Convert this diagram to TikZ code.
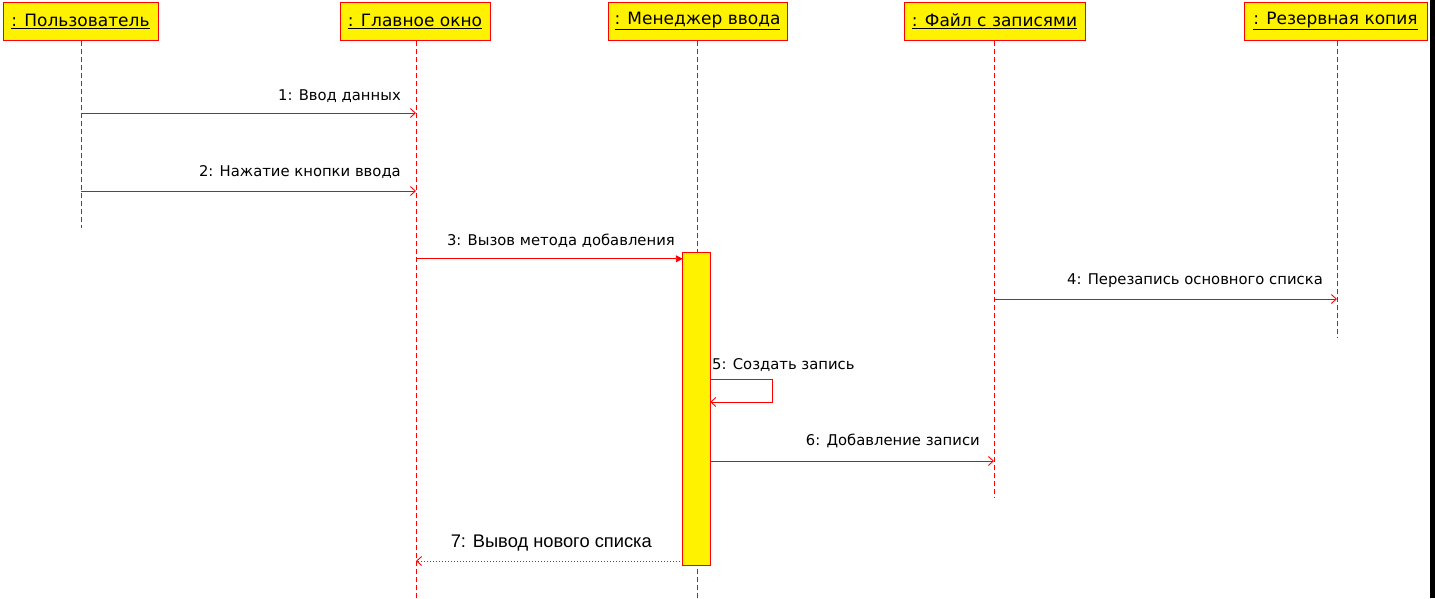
\documentclass[tikz,border=0pt]{standalone}
\usepackage{fontspec}
\setmainfont{DejaVu Sans}
\newfontfamily\retfont{Liberation Sans}
\usetikzlibrary{positioning, arrows.meta, calc}

\begin{document}
\begin{tikzpicture}[x=1pt, y=-1pt,
    obj/.style={draw=red, fill=yellow, line width=1pt, minimum height=38pt, inner sep=0pt,
      font=\fontsize{17}{20}\selectfont},
    life/.style={red, line width=0.9pt, dash pattern=on 5pt off 3pt},
    msg/.style={red, line width=0.9pt, -{Straight Barb[length=5pt, width=9pt, line width=0.9pt]}},
    call/.style={red, line width=0.9pt, -{Triangle[length=7pt, width=7pt]}},
    ret/.style={red, line width=1pt, dash pattern=on 1pt off 2pt, -{Straight Barb[length=5pt, width=9pt, line width=0.9pt]}},
    lbl/.style={inner sep=0pt, font=\fontsize{14.8}{17}\selectfont}]
  \useasboundingbox (0,0) rectangle (1435,598);
  % объекты
  \node[obj, minimum width=155pt] (user) at (80.5,21) {\underline{: Пользователь}};
  \node[obj, minimum width=150pt] (win) at (415,21) {\underline{: Главное окно}};
  \node[obj, minimum width=179pt] (mgr) at (697.5,21) {\underline{: Менеджер ввода}};
  \node[obj, minimum width=181pt] (file) at (994.5,21) {\underline{: Файл с записями}};
  \node[obj, minimum width=183pt] (backup) at (1335.5,21) {\underline{: Резервная копия}};
  % концы линий жизни
  \coordinate (userend) at (81,228);
  \coordinate (winend) at (416,598);
  \coordinate (mgrend) at (697,598);
  \coordinate (fileend) at (994,497);
  \coordinate (backupend) at (1337,338);
  \draw[life] (user.south -| userend) -- (userend);
  \draw[life] (win.south -| winend) -- (winend);
  \draw[life] (mgr.south -| mgrend) -- (mgrend);
  \draw[life] (file.south -| fileend) -- (fileend);
  \draw[life] (backup.south -| backupend) -- (backupend);
  % активация
  \node[fill=yellow, minimum width=27pt, minimum height=312pt, inner sep=0pt] (act) at (696.5,409) {};
  \draw[red, line width=1.2pt] (act.north west) rectangle (act.south east);
  % уровни сообщений
  \coordinate (m1) at (0,113);
  \coordinate (m2) at (0,191);
  \coordinate (m4) at (0,299);
  \coordinate (m5) at (0,379);
  \coordinate (m5b) at (0,402);
  \coordinate (m6) at (0,461);
  \coordinate (m7) at (0,561);
  % сообщения
  \draw[msg] (userend |- m1) -- (winend |- m1);
  \node[lbl, anchor=east] (l1) at (401,96) {1: Ввод данных};
  \draw[msg] (userend |- m2) -- (winend |- m2);
  \node[lbl, anchor=east] (l2) at (401,172) {2: Нажатие кнопки ввода};
  \draw[call] (winend |- act.north) ++(0,6) -- ($(act.north west)+(0,6)$);
  \node[lbl, anchor=east] (l3) at (675,241) {3: Вызов метода добавления};
  \draw[msg] (fileend |- m4) -- (backupend |- m4);
  \node[lbl, anchor=east] (l4) at (1323,281) {4: Перезапись основного списка};
  \draw[msg] (act.east |- m5) -- ++(62,0) |- (act.east |- m5b);
  \node[lbl, anchor=west] (l5) at (712,365) {5: Создать запись};
  \draw[msg] (act.east |- m6) -- (fileend |- m6);
  \node[lbl, anchor=east] (l6) at (980,441) {6: Добавление записи};
  \draw[ret] (act.west |- m7) -- (winend |- m7);
  \node[lbl, anchor=east, font=\retfont\fontsize{18.3}{21}\selectfont] (l7) at (652,543) {7: Вывод нового списка};
  % рамка справа
  \fill[black] (1430,0) rectangle (1435,598);
\end{tikzpicture}
\end{document}
